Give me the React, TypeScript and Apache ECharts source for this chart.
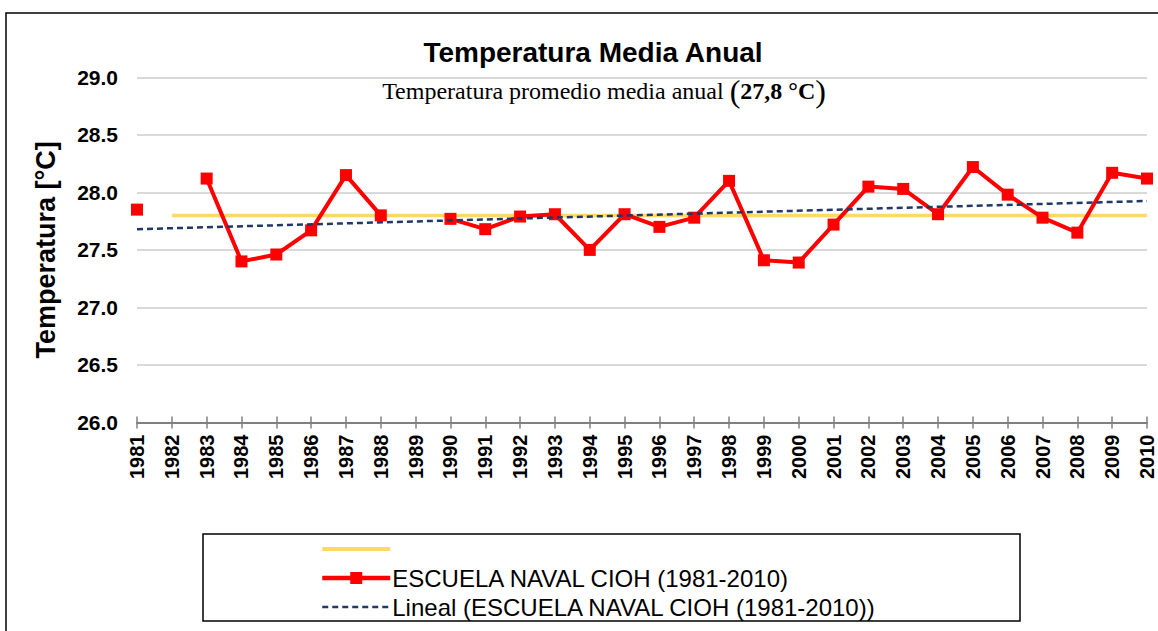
import React, { useEffect, useRef } from "react";
import * as echarts from "echarts";

const years = ["1981","1982","1983","1984","1985","1986","1987","1988","1989","1990","1991","1992","1993","1994","1995","1996","1997","1998","1999","2000","2001","2002","2003","2004","2005","2006","2007","2008","2009","2010"];
const temps: (number | null)[] = [27.85, null, 28.12, 27.40, 27.46, 27.67, 28.15, 27.80, null, 27.77, 27.68, 27.79, 27.81, 27.50, 27.81, 27.70, 27.78, 28.10, 27.41, 27.39, 27.72, 28.05, 28.03, 27.81, 28.22, 27.98, 27.78, 27.65, 28.17, 28.12];
const meanLine: (number | null)[] = [null, 27.8, 27.8, 27.8, 27.8, 27.8, 27.8, 27.8, 27.8, 27.8, 27.8, 27.8, 27.8, 27.8, 27.8, 27.8, 27.8, 27.8, 27.8, 27.8, 27.8, 27.8, 27.8, 27.8, 27.8, 27.8, 27.8, 27.8, 27.8, 27.8];
const trendLine: (number | null)[] = [27.68, null, null, null, null, null, null, null, null, null, null, null, null, null, null, null, null, null, null, null, null, null, null, null, null, null, null, null, null, 27.925];
const yTicks = { min: 26, max: 29, interval: 0.5 };

const SERIES_MAIN = "ESCUELA NAVAL CIOH (1981-2010)";
const SERIES_TREND = "Lineal (ESCUELA NAVAL CIOH (1981-2010))";
const SERIES_MEAN = "Promedio";

const SANS = "Liberation Sans, Arial, sans-serif";
const SERIF = "Liberation Serif, Times New Roman, serif";

export default function App() {
  const ref = useRef<HTMLDivElement>(null);
  useEffect(() => {
    if (!ref.current) return;
    const chart = echarts.init(ref.current, null, { renderer: "svg" });
    chart.setOption({
      animation: false,
      backgroundColor: "#ffffff",
      title: [
        {
          text: "Temperatura Media Anual",
          left: 588,
          top: 33,
          textAlign: "center",
          textStyle: { fontFamily: SANS, fontSize: 28, fontWeight: "bold", color: "#000" },
        },
        {
          text: "{a|Temperatura promedio media anual }{p|(}{b|27,8 °C}{p|)}",
          left: 599,
          top: 70,
          textAlign: "center",
          textStyle: {
            fontWeight: "normal",
            rich: {
              a: { fontFamily: SERIF, fontSize: 24, fontWeight: "normal", color: "#000" },
              b: { fontFamily: SERIF, fontSize: 24, fontWeight: "bold", color: "#000" },
              p: { fontFamily: SERIF, fontSize: 32, fontWeight: "normal", color: "#000" },
            },
          },
        },
      ],
      graphic: [
        { type: "rect", shape: { x: 6, y: 13, width: 1300, height: 800 }, style: { fill: "none", stroke: "#000", lineWidth: 1.5 }, z: 0 },
        { type: "rect", shape: { x: 203, y: 534, width: 817, height: 87 }, style: { fill: "none", stroke: "#000", lineWidth: 1.5 }, z: 0 },
      ],
      legend: {
        orient: "vertical",
        left: 320,
        top: 537,
        padding: 0,
        itemWidth: 68,
        itemHeight: 15,
        itemGap: 5,
        data: [
          { name: SERIES_MEAN, itemStyle: { opacity: 0 }, lineStyle: { width: 4 } },
          { name: SERIES_MAIN, lineStyle: { width: 4.5 } },
          { name: SERIES_TREND, itemStyle: { opacity: 0 }, lineStyle: { width: 2.5 } },
        ],
        formatter: (name: string) => (name === SERIES_MEAN ? " " : name),
        textStyle: { fontFamily: SANS, fontSize: 24, lineHeight: 24, height: 24, color: "#000", padding: [0, 0, 0, -3] },
      },
      grid: { left: 137, right: 11, top: 77.3, bottom: 208.5, containLabel: false },
      xAxis: [
        {
          type: "category",
          data: years,
          boundaryGap: false,
          axisLine: { lineStyle: { color: "#808080", width: 2 } },
          axisTick: { show: true, length: 6, lineStyle: { color: "#808080", width: 1.5 } },
          axisLabel: { rotate: 90, margin: 12, fontFamily: SANS, fontSize: 20, fontWeight: "bold", color: "#000", interval: 0 },
          splitLine: { show: false },
        },
        {
          type: "category",
          data: years,
          boundaryGap: false,
          position: "bottom",
          axisLine: { show: false },
          axisTick: { show: true, inside: true, length: 6, lineStyle: { color: "#808080", width: 1.5 } },
          axisLabel: { show: false },
          splitLine: { show: false },
        },
      ],
      yAxis: {
        type: "value",
        min: yTicks.min,
        max: yTicks.max,
        interval: yTicks.interval,
        name: "Temperatura [°C]",
        nameLocation: "middle",
        nameGap: 78,
        nameTextStyle: { fontFamily: SANS, fontSize: 27, fontWeight: "bold", color: "#000" },
        axisLine: { show: false },
        axisTick: { show: false },
        axisLabel: { margin: 19, fontFamily: SANS, fontSize: 21, fontWeight: "bold", color: "#000", formatter: (v: number) => v.toFixed(1) },
        splitLine: { lineStyle: { color: "#d9d9d9", width: 2 } },
      },
      series: [
        {
          name: SERIES_MEAN,
          type: "line",
          data: meanLine,
          symbol: "none",
          lineStyle: { color: "#ffd966", width: 3.5 },
          itemStyle: { color: "#ffd966" },
          z: 2,
        },
        {
          name: SERIES_TREND,
          type: "line",
          data: trendLine,
          connectNulls: true,
          symbol: "none",
          lineStyle: { color: "#1f3864", width: 2.5, type: [6, 4] },
          itemStyle: { color: "#1f3864" },
          z: 4,
        },
        {
          name: SERIES_MAIN,
          type: "line",
          data: temps,
          symbol: "rect",
          symbolSize: 12,
          showAllSymbol: true,
          lineStyle: { color: "#ff0000", width: 4 },
          itemStyle: { color: "#ff0000" },
          z: 3,
        },
      ],
    });
    return () => chart.dispose();
  }, []);
  return <div ref={ref} style={{ position: "absolute", left: 0, top: 0, width: 1158, height: 631 }} />;
}
